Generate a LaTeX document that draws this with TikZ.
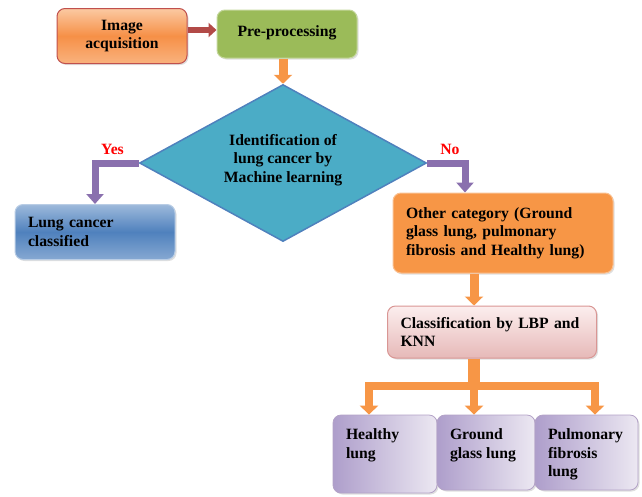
\documentclass[tikz,border=0pt]{standalone}
\usepackage{fontspec}
\setmainfont{Liberation Serif}
\usetikzlibrary{shapes.geometric,arrows.meta,shadows}

\definecolor{acqtop}{HTML}{FBC9A2}
\definecolor{acqmid}{HTML}{F69047}
\definecolor{acqline}{HTML}{C0504D}
\definecolor{pregreen}{HTML}{9BBB59}
\definecolor{preline}{HTML}{C3D69B}
\definecolor{diafill}{HTML}{4BACC6}
\definecolor{dialine}{HTML}{4F81BD}
\definecolor{lungtop}{HTML}{9DB9DB}
\definecolor{lungmid}{HTML}{4F81BD}
\definecolor{lungline}{HTML}{B9CDE5}
\definecolor{othfill}{HTML}{F79646}
\definecolor{othline}{HTML}{FAC090}
\definecolor{clstop}{HTML}{FCEEEE}
\definecolor{clsbot}{HTML}{E6B9B8}
\definecolor{clsline}{HTML}{D99694}
\definecolor{lungdark}{HTML}{AE9ECB}
\definecolor{lunglight}{HTML}{ECE8F2}
\definecolor{lungbox}{HTML}{B3A2C7}
\definecolor{arrred}{HTML}{B24A47}
\definecolor{arrorange}{HTML}{F79646}
\definecolor{arrpurple}{HTML}{8A70AE}

\newcommand{\toptext}[3]{\parbox[c][#2][t]{#1}{\raggedright #3}}

\begin{document}
\begin{tikzpicture}[x=1pt,y=-1pt,
  txt/.style={font=\bfseries\fontsize{15.7}{18.5}\selectfont},
  box/.style={txt, rounded corners=8pt, inner xsep=13pt, inner ysep=0pt, align=left,
    drop shadow={opacity=0.25, shadow xshift=1.5pt, shadow yshift=-1.5pt}},
  lungbox/.style={box, inner ysep=14pt, draw=lungbox, line width=0.8pt,
    left color=lungdark, right color=lunglight},
  orangearrow/.style={draw=arrorange, line width=9pt, -{Triangle[width=18pt,length=9pt]}},
  purplearrow/.style={draw=arrpurple, line width=7pt, -{Triangle[width=17pt,length=10pt]}},
  answer/.style={txt, text=red}]

\useasboundingbox (0,0) rectangle (642,496);

% boxes
\node[box, align=center, minimum width=130pt, minimum height=55pt, draw=acqline, line width=1pt,
  top color=acqtop, bottom color=acqtop!60!acqmid, middle color=acqmid] (acq) at (122,36)
  {Image\\acquisition};
\node[box, align=center, minimum width=140pt, minimum height=48pt, draw=preline, line width=1pt,
  fill=pregreen] (pre) at (287,34) {\raisebox{5pt}{Pre-processing}};
\node[diamond, aspect=1.83, txt, align=center, minimum width=287pt, minimum height=157pt, inner sep=0pt,
  fill=diafill, draw=dialine, line width=1.5pt] (diag) at (283,163)
  {Identification of\\lung cancer by\\Machine learning\\[-8.5pt]};
\node[box, text width=134pt, minimum height=55pt, draw=lungline, line width=1pt,
  top color=lungtop, bottom color=lungtop!70!lungmid, middle color=lungmid] (lung) at (95,232)
  {Lung cancer\\classified};
\node[box, text width=194pt, minimum height=80pt, draw=othline, line width=1pt,
  fill=othfill] (other) at (503,233)
  {Other category (Ground\\glass lung, pulmonary\\fibrosis and Healthy lung)};
\node[box, text width=183pt, minimum height=52pt, draw=clsline, line width=1pt,
  top color=clstop, bottom color=clsbot] (cls) at (492,332)
  {Classification by LBP and\\KNN};
\node[lungbox] (healthy) at (385,454) {\toptext{78pt}{50pt}{Healthy\\lung}};
\node[lungbox] (ground) at (486,452.5) {\toptext{72pt}{47pt}{Ground\\glass lung}};
\node[lungbox] (pulm) at (586.5,452.5) {\toptext{77pt}{47pt}{Pulmonary\\fibrosis\\lung}};

% connectors
\coordinate (fork) at (474,386);
\coordinate (forkL) at (369,386);
\coordinate (forkR) at (595,386);
\draw[draw=arrred, line width=6pt, -{Triangle[width=14pt,length=8pt]}]
  ([yshift=6pt]acq.east) -- ([yshift=6pt]acq.east -| pre.west);
\draw[orangearrow] (pre.south -| diag.north) -- (diag.north);
\draw[purplearrow] (diag.west) -| (lung.north) node[answer, pos=0.3, above=2pt] {Yes};
\draw[purplearrow] (diag.east) -| ([xshift=-38pt]other.north) node[answer, pos=0.3, above=2pt] {No};
\draw[orangearrow] (other.south -| fork) -- (cls.north -| fork);
\draw[draw=arrorange, line width=12pt] (cls.south -| fork) -- ([yshift=-4pt]fork);
\draw[draw=arrorange, line width=8pt] ([xshift=-4pt]forkL) -- ([xshift=4pt]forkR);
\draw[orangearrow, line width=8pt] ([yshift=4pt]forkL) -- (forkL |- healthy.north);
\draw[orangearrow, line width=8pt] ([yshift=4pt]fork) -- (fork |- ground.north);
\draw[orangearrow, line width=8pt] ([yshift=4pt]forkR) -- (forkR |- pulm.north);
\end{tikzpicture}
\end{document}
